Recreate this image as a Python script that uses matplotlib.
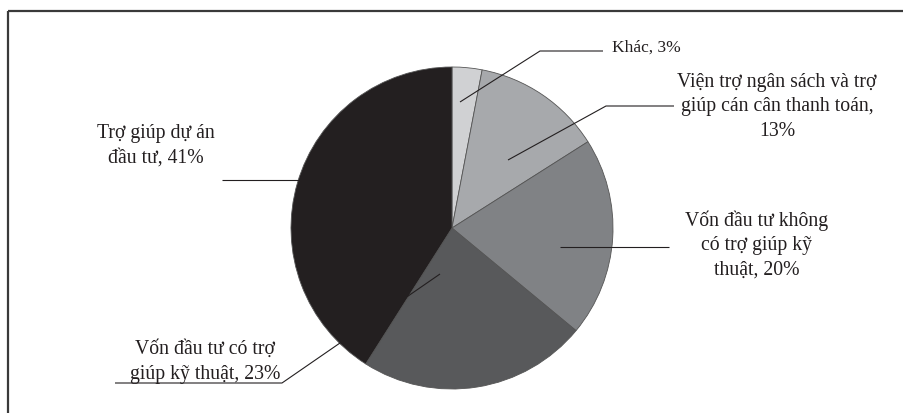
import matplotlib.pyplot as plt
from matplotlib.patches import Rectangle

plt.rcParams['font.family'] = ['Liberation Serif', 'DejaVu Serif']

nhan = ['Khác, 3%',
        'Viện trợ ngân sách và trợ\ngiúp cán cân thanh toán,\n13%',
        'Vốn đầu tư không\ncó trợ giúp kỹ\nthuật, 20%',
        'Vốn đầu tư có trợ\ngiúp kỹ thuật, 23%',
        'Trợ giúp dự án\nđầu tư, 41%']
ty_le = [3, 13, 20, 23, 41]
mau = ['#d0d1d3', '#a7a9ac', '#808285', '#58595b', '#231f20']

W, H = 904, 414
def Y(y):
    return H - y

fig = plt.figure(figsize=(W / 100, H / 100), dpi=100)
ax = fig.add_axes([0, 0, 1, 1])
ax.set_xlim(0, W)
ax.set_ylim(0, H)
ax.set_aspect('equal')
ax.axis('off')

ax.pie(ty_le, colors=mau, startangle=90, counterclock=False,
       center=(452, Y(229)), radius=161,
       wedgeprops=dict(edgecolor='#555555', linewidth=0.6))
ax.set_xlim(0, W)
ax.set_ylim(0, H)

# khung
ax.add_patch(Rectangle((8, Y(12)), W, -H, fill=False, edgecolor='#3a3a3a',
                       linewidth=1.6, clip_on=False))

mau_chu = '#231f20'
# duong dan (pixel)
duong = [
    [(460, 103), (540, 52), (603, 52)],
    [(508, 161), (606, 107), (674, 107)],
    [(560, 248), (669, 248)],
    [(440, 275), (282, 384), (115, 384)],
    [(222, 181), (300, 181)],
]
for d in duong:
    xs = [p[0] for p in d]
    ys = [Y(p[1]) for p in d]
    ax.plot(xs, ys, color=mau_chu, linewidth=0.8, solid_capstyle='butt')

vi_tri = [(612, 48, 'left'), (777, 107, 'center'), (757, 245, 'center'),
          (205, 362, 'center'), (156, 146, 'center')]
for t, (x, y, ha) in zip(nhan, vi_tri):
    ax.text(x, Y(y), t, ha=ha, va='center', fontsize=14.2 if ha != 'left' else 12.5,
            color=mau_chu, linespacing=1.4, multialignment='center')

fig.savefig('out.png', dpi=100)
